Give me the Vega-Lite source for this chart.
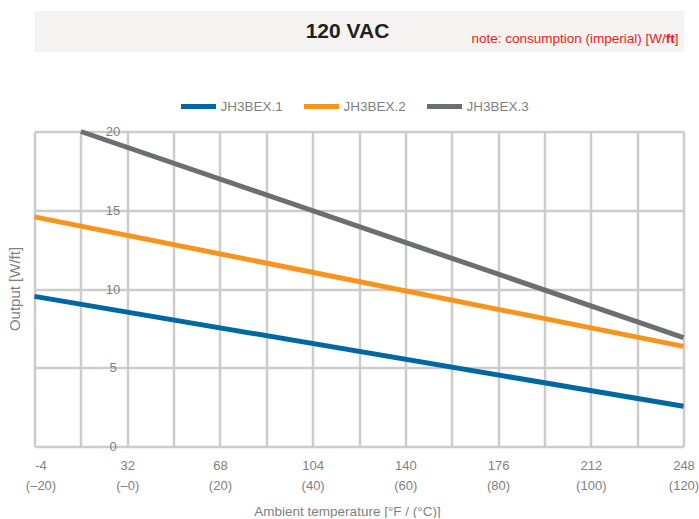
{
  "$schema": "https://vega.github.io/schema/vega-lite/v6.json",
  "background": "white",
  "padding": {"left": 7.5, "top": 11, "right": 0, "bottom": 0},
  "config": {
    "font": "Liberation Sans",
    "view": {"stroke": null}
  },
  "columns": 1,
  "spacing": 34.5,
  "align": "none",
  "bounds": "full",
  "resolve": {"scale": {"color": "independent"}, "legend": {"color": "independent"}},
  "concat": [
    {
      "width": 650,
      "height": 41,
      "view": {"fill": "#f4f3f2", "stroke": null},
      "data": {"values": [{"title": "120 VAC", "note": "note: consumption (imperial) [W/", "unit": "ft", "close": "]"}]},
      "layer": [
        {
          "mark": {"type": "text", "fontSize": 21, "fontWeight": "bold", "color": "#231f20", "align": "center", "baseline": "alphabetic", "dx": -12, "dy": 6.2},
          "encoding": {"text": {"field": "title"}}
        },
        {
          "mark": {"type": "text", "fontSize": 13.5, "color": "#ed1c24", "align": "right", "baseline": "alphabetic", "dx": 306.25, "dy": 11},
          "encoding": {"text": {"field": "note"}}
        },
        {
          "mark": {"type": "text", "fontSize": 13.5, "fontWeight": "bold", "color": "#ed1c24", "align": "right", "baseline": "alphabetic", "dx": 315.25, "dy": 11},
          "encoding": {"text": {"field": "unit"}}
        },
        {
          "mark": {"type": "text", "fontSize": 13.5, "color": "#ed1c24", "align": "right", "baseline": "alphabetic", "dx": 319, "dy": 11},
          "encoding": {"text": {"field": "close"}}
        }
      ]
    },
    {
      "width": 649,
      "height": 315,
      "data": {
        "values": [
          {"series": "JH3BEX.1", "temp_c": -20, "output": 9.53},
          {"series": "JH3BEX.1", "temp_c": 120, "output": 2.55},
          {"series": "JH3BEX.2", "temp_c": -20, "output": 14.58},
          {"series": "JH3BEX.2", "temp_c": 120, "output": 6.36},
          {"series": "JH3BEX.3", "temp_c": -10, "output": 20},
          {"series": "JH3BEX.3", "temp_c": 120, "output": 6.92}
        ]
      },
      "mark": {"type": "line", "strokeWidth": 5, "strokeCap": "butt"},
      "encoding": {
        "x": {
          "field": "temp_c",
          "type": "quantitative",
          "scale": {"domain": [-20, 120], "nice": false, "zero": false},
          "axis": {
            "values": [-20, -10, 0, 10, 20, 30, 40, 50, 60, 70, 80, 90, 100, 110, 120],
            "grid": true,
            "gridColor": "#cccccc",
            "gridWidth": 2.5,
            "domain": false,
            "ticks": false,
            "tickSize": 0,
            "labelPadding": 12.5,
            "labelFontSize": 13,
            "labelColor": "#7f7f7f",
            "labelLineHeight": 20,
            "labelFlush": false,
            "labelOverlap": false,
            "labelOffset": {"condition": {"test": "datum.value == -20", "value": 6}, "value": 0},
            "labelExpr": "datum.value % 20 == 0 ? ['' + (datum.value * 9 / 5 + 32), datum.value <= 0 ? '(–' + abs(datum.value) + ')' : '(' + datum.value + ')'] : ''",
            "title": "Ambient temperature [°F / (°C)]",
            "titleFontSize": 13.5,
            "titleFontWeight": "normal",
            "titleColor": "#7f7f7f",
            "titleX": 312.5,
            "titleY": 69,
            "titleAlign": "center",
            "titleBaseline": "alphabetic"
          }
        },
        "y": {
          "field": "output",
          "type": "quantitative",
          "scale": {"domain": [0, 20], "nice": false},
          "axis": {
            "values": [0, 5, 10, 15, 20],
            "grid": true,
            "gridColor": "#cccccc",
            "gridWidth": 2.5,
            "domain": false,
            "ticks": false,
            "tickSize": 0,
            "offset": -80,
            "labelPadding": 2,
            "labelAlign": "center",
            "labelBaseline": "middle",
            "labelFontSize": 13,
            "labelColor": "#7f7f7f",
            "labelFlush": false,
            "labelOverlap": false,
            "title": "Output [W/ft]",
            "titleFontSize": 15,
            "titleFontWeight": "normal",
            "titleColor": "#7f7f7f",
            "titleX": -100,
            "titleY": 157,
            "titleAngle": 270,
            "titleAlign": "center",
            "titleBaseline": "middle"
          }
        },
        "color": {
          "field": "series",
          "type": "nominal",
          "scale": {"domain": ["JH3BEX.1", "JH3BEX.2", "JH3BEX.3"], "range": ["#0068a0", "#f7941d", "#6d6e71"]},
          "legend": {
            "orient": "none",
            "legendX": 144,
            "legendY": -45,
            "direction": "horizontal",
            "title": null,
            "symbolType": "stroke",
            "symbolStrokeWidth": 5,
            "symbolSize": 1225,
            "labelFontSize": 13.5,
            "labelColor": "#7f7f7f",
            "labelOffset": 2,
            "columnPadding": 10
          }
        }
      }
    }
  ]
}
